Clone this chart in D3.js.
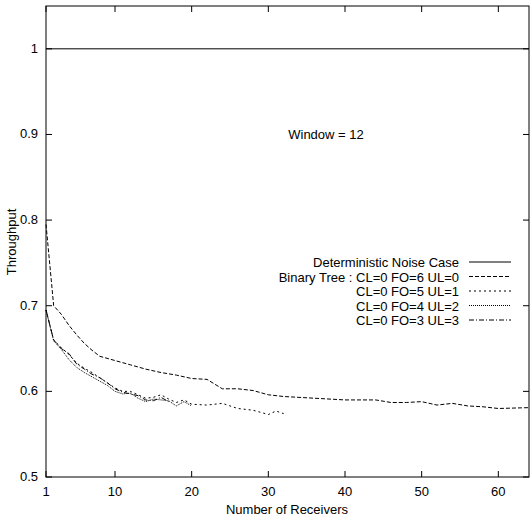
<!DOCTYPE html><html><head><meta charset="utf-8"><script src="https://cdn.jsdelivr.net/npm/d3@7"></script>
<style>body{margin:0;background:#fff}text{font-family:"Liberation Sans",Arial,sans-serif;font-size:13px}</style></head><body><svg id="c" width="530" height="518"></svg>
<script>
const detX=[1,64], detY=[1,1];
const fo6X=[1,2,3,4,5,6,7,8,10,12,14,16,18,20,22,24,26,28,30,32,36,40,44,46,48,50,52,54,56,58,60,64];
const fo6Y=[0.795,0.70,0.69,0.677,0.666,0.656,0.648,0.641,0.636,0.631,0.626,0.622,0.619,0.615,0.614,0.603,0.603,0.601,0.596,0.594,0.592,0.590,0.590,0.587,0.587,0.588,0.584,0.586,0.583,0.582,0.580,0.581];
const lowX=[1,2,3,4,5,6,7,8,9,10,11,12,13,14,15,16,17,18,19,20,22,24,26,28,30,31,32];
const fo5Y=[0.695,0.66,0.651,0.643,0.633,0.627,0.622,0.616,0.61,0.604,0.600,0.600,0.596,0.592,0.593,0.596,0.591,0.587,0.590,0.585,0.584,0.586,0.580,0.578,0.573,0.577,0.574];
const fo4Y=[0.695,0.659,0.649,0.637,0.628,0.622,0.617,0.612,0.607,0.600,0.597,0.598,0.592,0.588,0.591,0.590,0.589,0.583,0.588,0.583];
const fo3Y=[0.695,0.660,0.650,0.644,0.632,0.626,0.620,0.616,0.610,0.603,0.599,0.597,0.595,0.590,0.589,0.593,0.588];
const xTicks=[10,20,30,40,50,60], yTicks=[0.5,0.6,0.7,0.8,0.9,1];
const svg=d3.select("#c");
const x=d3.scaleLinear().domain([1,64]).range([46,529]);
const y=d3.scaleLinear().domain([0.5,1.05]).range([477,6]);
svg.append("rect").attr("x",46).attr("y",6).attr("width",483).attr("height",471).attr("fill","none").attr("stroke","#000");
const xt=[1,...xTicks];
xt.forEach(t=>{svg.append("line").attr("x1",x(t)).attr("x2",x(t)).attr("y1",477).attr("y2",471).attr("stroke","#000");
 svg.append("line").attr("x1",x(t)).attr("x2",x(t)).attr("y1",6).attr("y2",12).attr("stroke","#000");
 svg.append("text").attr("x",x(t)).attr("y",496).attr("text-anchor","middle").text(t);});
yTicks.forEach(t=>{svg.append("line").attr("x1",46).attr("x2",52).attr("y1",y(t)).attr("y2",y(t)).attr("stroke","#000");
 svg.append("line").attr("x1",523).attr("x2",529).attr("y1",y(t)).attr("y2",y(t)).attr("stroke","#000");
 svg.append("text").attr("x",38).attr("y",y(t)+4).attr("text-anchor","end").text(t);});
svg.append("text").attr("x",287).attr("y",514).attr("text-anchor","middle").text("Number of Receivers");
svg.append("text").attr("transform","translate(16,242) rotate(-90)").attr("text-anchor","middle").text("Throughput");
svg.append("text").attr("x",326).attr("y",139).attr("text-anchor","middle").text("Window = 12");
const series=[["Deterministic Noise Case",detX,detY,null],["Binary Tree : CL=0 FO=6 UL=0",fo6X,fo6Y,"4,2"],["CL=0 FO=5 UL=1",lowX,fo5Y,"2,3"],["CL=0 FO=4 UL=2",lowX,fo4Y,"1,1"],["CL=0 FO=3 UL=3",lowX,fo3Y,"5,2,1,2"]];
const line=d3.line().x(d=>x(d[0])).y(d=>y(d[1]));
series.forEach((s,i)=>{
 const pts=s[2].map((v,j)=>[s[1][j],v]);
 const p=svg.append("path").attr("d",line(pts)).attr("fill","none").attr("stroke","#000").attr("stroke-width",1);
 if(s[3])p.attr("stroke-dasharray",s[3]);
 const ly=262+i*14.5;
 svg.append("text").attr("x",459).attr("y",ly+5).attr("text-anchor","end").text(s[0]);
 const l=svg.append("line").attr("x1",469).attr("x2",511).attr("y1",ly).attr("y2",ly).attr("stroke","#000");
 if(s[3])l.attr("stroke-dasharray",s[3]);
});
</script></body></html>
